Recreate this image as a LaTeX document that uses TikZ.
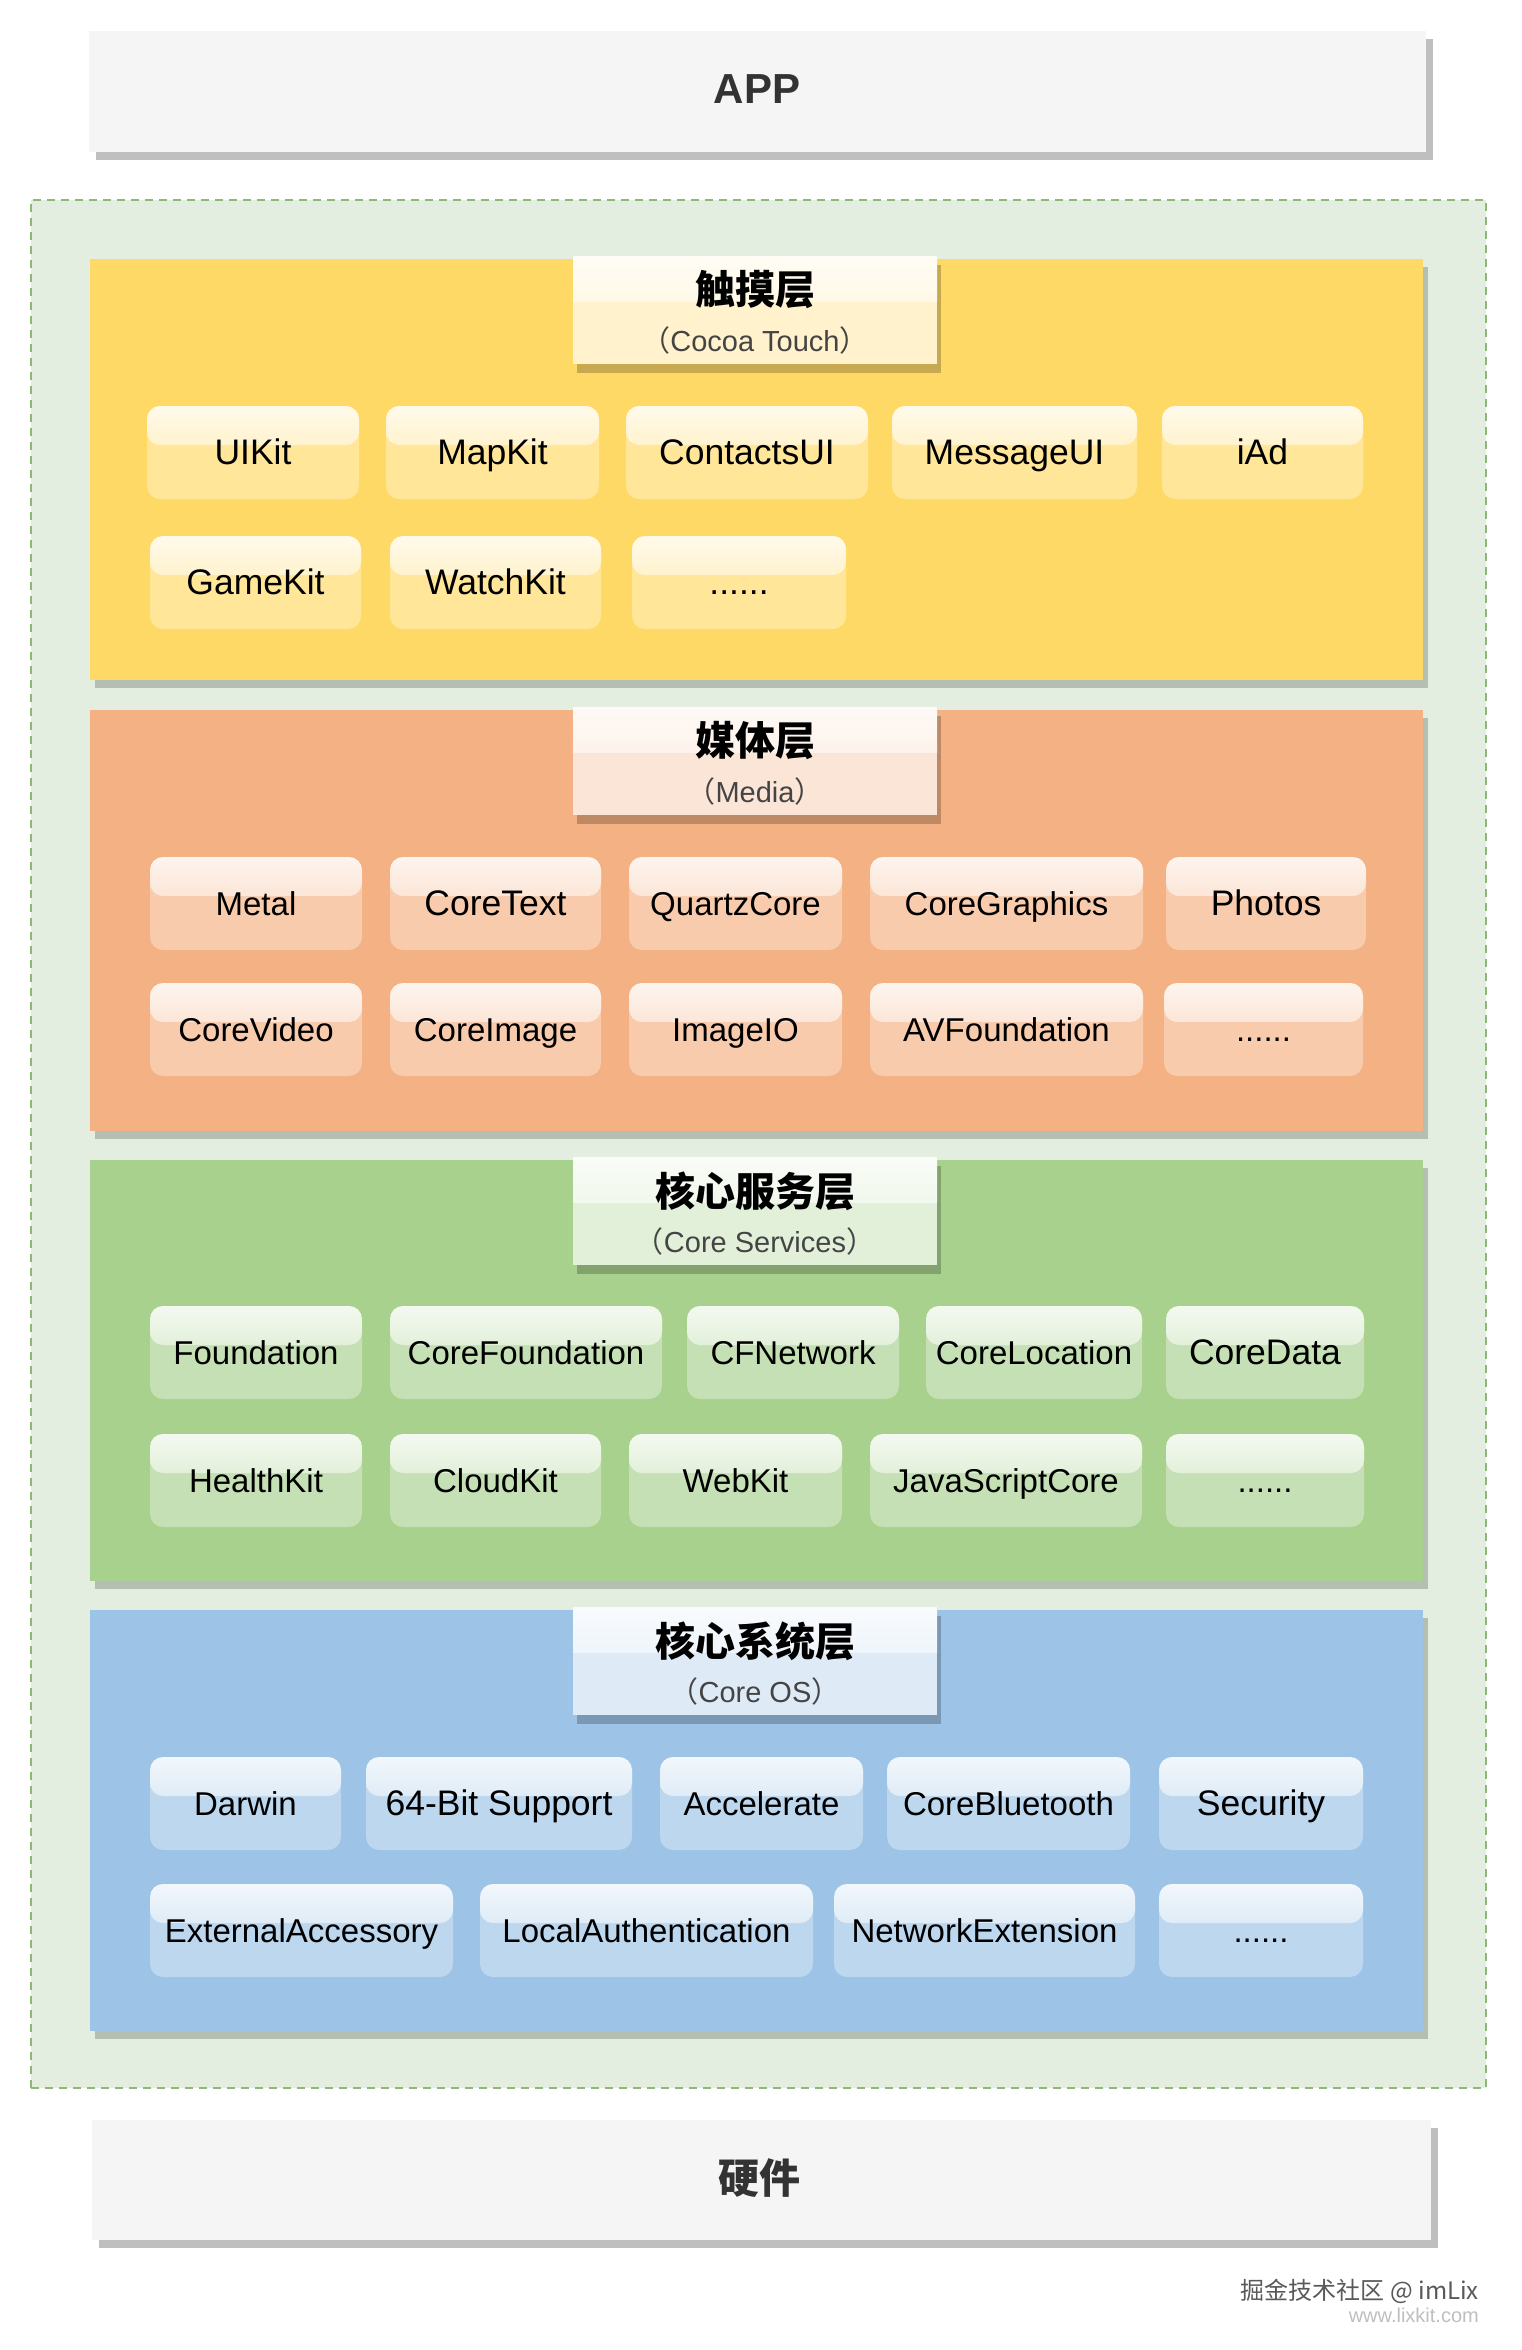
\documentclass[tikz,border=0pt]{standalone}
\usepackage{fontspec}
\setmainfont{Liberation Sans}
\newfontfamily\cjk{Noto Sans CJK SC}
\usetikzlibrary{calc,shadows}
\definecolor{lyY}{HTML}{FFD966}
\definecolor{lyO}{HTML}{F4B183}
\definecolor{lyG}{HTML}{A9D18E}
\definecolor{lyB}{HTML}{9DC3E6}
\definecolor{kbY}{HTML}{FFE699}
\definecolor{kbO}{HTML}{F8CBAD}
\definecolor{kbG}{HTML}{C5E0B4}
\definecolor{kbB}{HTML}{BDD7EE}
\definecolor{ttY}{HTML}{FFF2CC}
\definecolor{ttO}{HTML}{FBE5D6}
\definecolor{ttG}{HTML}{E2F0D9}
\definecolor{ttB}{HTML}{DEEBF7}
\definecolor{contfill}{RGB}{227,238,224}
\definecolor{contline}{RGB}{140,185,115}
\definecolor{appfill}{HTML}{F5F5F5}
\definecolor{subgray}{HTML}{444444}
\newcommand\bigf{\fontsize{35.5}{42}\selectfont}
\newcommand\kb[6]{%
  \node[kbtn=#5, minimum width={(#3-#2)*1pt}, minimum height=93pt] (#1) at ({(#2+#3)/2},{#4+46.5}) {#6};}
\newcommand\layer[6]{% name, top, layercolor, titlecolor, cjk, sub
  \node[layerbox=#3] (#1) at (756.5,{#2+210.5}) {};
  \node[tbox=#4] (#1t) at (755,{#2+51}) {};
  \node[ttxt] (#1ta) at (755,{#2+31}) {#5};
  \node[stxt] (#1tb) at (755,{#2+81}) {{\cjk （}#6{\cjk ）}};}
\begin{document}
\begin{tikzpicture}[x=1pt,y=-1pt,
  gloss/.style={path picture={\shade[top color=white!80!#1, bottom color=white!12!#1]
     (path picture bounding box.north west) rectangle
     ($(path picture bounding box.north east)!0.42!(path picture bounding box.south east)$);}},
  kbtn/.style={rectangle, rounded corners=13pt, fill=#1, inner sep=0pt, gloss=#1,
     font=\fontsize{33}{40}\selectfont, text=black, text height=24pt, text depth=0pt},
  tbox/.style={rectangle, fill=#1, inner sep=0pt, gloss=#1, minimum width=364pt, minimum height=108pt,
     drop shadow={shadow xshift=4pt, shadow yshift=-9pt, fill=black, opacity=0.22}},
  layerbox/.style={rectangle, fill=#1, inner sep=0pt, minimum width=1333pt, minimum height=421pt,
     drop shadow={shadow xshift=5pt, shadow yshift=-8pt, fill=black, opacity=0.2}},
  ttxt/.style={font=\cjk\bfseries\fontsize{40}{48}\selectfont, text=black, inner sep=0pt},
  stxt/.style={font=\fontsize{29}{35}\selectfont, text=subgray, inner sep=0pt},
  greybox/.style={rectangle, fill=appfill, inner sep=0pt,
     drop shadow={shadow xshift=7pt, shadow yshift=-8pt, fill=black, opacity=0.25}},
  container/.style={rectangle, fill=contfill, draw=contline, line width=2pt, dash pattern=on 8pt off 6pt}
]
\useasboundingbox (0,0) rectangle (1521,2350);
\fill[white] (0,0) rectangle (1521,2350);

% APP
\node[greybox, minimum width=1337pt, minimum height=121pt] (app) at (757.5,91.5) {};
\node[font=\bfseries\fontsize{42}{50}\selectfont, text=black!80, inner sep=0pt] (appt) at (757,89) {APP};

% container
\node[container, minimum width=1455pt, minimum height=1888pt] (core) at (758.5,1144) {};

% layers
\layer{ly1}{259}{lyY}{ttY}{触摸层}{Cocoa Touch}
\layer{ly2}{710}{lyO}{ttO}{媒体层}{Media}
\layer{ly3}{1160}{lyG}{ttG}{核心服务层}{Core Services}
\layer{ly4}{1610}{lyB}{ttB}{核心系统层}{Core OS}

% Cocoa Touch
\kb{uikit}{147}{359}{406}{kbY}{\bigf UIKit}
\kb{mapkit}{386}{599}{406}{kbY}{\bigf MapKit}
\kb{contactsui}{626}{868}{406}{kbY}{\bigf ContactsUI}
\kb{messageui}{892}{1137}{406}{kbY}{\bigf MessageUI}
\kb{iad}{1162}{1363}{406}{kbY}{\bigf iAd}
\kb{gamekit}{150}{361}{536}{kbY}{\bigf GameKit}
\kb{watchkit}{390}{601}{536}{kbY}{\bigf WatchKit}
\kb{ymore}{632}{846}{536}{kbY}{\bigf ......}

% Media
\kb{metal}{150}{362}{857}{kbO}{Metal}
\kb{coretext}{390}{601}{857}{kbO}{\bigf CoreText}
\kb{quartzcore}{629}{842}{857}{kbO}{QuartzCore}
\kb{coregraphics}{870}{1143}{857}{kbO}{CoreGraphics}
\kb{photos}{1166}{1366}{857}{kbO}{\bigf Photos}
\kb{corevideo}{150}{362}{983}{kbO}{CoreVideo}
\kb{coreimage}{390}{601}{983}{kbO}{CoreImage}
\kb{imageio}{629}{842}{983}{kbO}{ImageIO}
\kb{avfoundation}{870}{1143}{983}{kbO}{AVFoundation}
\kb{omore}{1164}{1363}{983}{kbO}{......}

% Core Services
\kb{foundation}{150}{362}{1306}{kbG}{Foundation}
\kb{corefoundation}{390}{662}{1306}{kbG}{CoreFoundation}
\kb{cfnetwork}{687}{899}{1306}{kbG}{CFNetwork}
\kb{corelocation}{926}{1142}{1306}{kbG}{CoreLocation}
\kb{coredata}{1166}{1364}{1306}{kbG}{\bigf CoreData}
\kb{healthkit}{150}{362}{1434}{kbG}{HealthKit}
\kb{cloudkit}{390}{601}{1434}{kbG}{CloudKit}
\kb{webkit}{629}{842}{1434}{kbG}{WebKit}
\kb{jscore}{870}{1142}{1434}{kbG}{JavaScriptCore}
\kb{gmore}{1166}{1364}{1434}{kbG}{......}

% Core OS
\kb{darwin}{150}{341}{1757}{kbB}{Darwin}
\kb{bit64}{366}{632}{1757}{kbB}{\bigf 64-Bit Support}
\kb{accelerate}{660}{863}{1757}{kbB}{Accelerate}
\kb{corebt}{887}{1130}{1757}{kbB}{CoreBluetooth}
\kb{security}{1159}{1363}{1757}{kbB}{\bigf Security}
\kb{extacc}{150}{453}{1884}{kbB}{ExternalAccessory}
\kb{localauth}{480}{813}{1884}{kbB}{LocalAuthentication}
\kb{netext}{834}{1135}{1884}{kbB}{NetworkExtension}
\kb{bmore}{1159}{1363}{1884}{kbB}{......}

% hardware
\node[greybox, minimum width=1339pt, minimum height=120pt] (hw) at (761.5,2180) {};
\node[font=\cjk\bfseries\fontsize{41}{49}\selectfont, text=black!80, inner sep=0pt] (hwt) at (759,2178) {硬件};

% watermark
\node[anchor=east, font=\cjk\fontsize{24}{28}\selectfont, text=black!65, inner sep=0pt] (wm1) at (1479,2291) {掘金技术社区 @ imLix};
\node[anchor=east, font=\fontsize{20}{24}\selectfont, text=black!25, inner sep=0pt] (wm2) at (1479,2315) {www.lixkit.com};
\end{tikzpicture}
\end{document}
